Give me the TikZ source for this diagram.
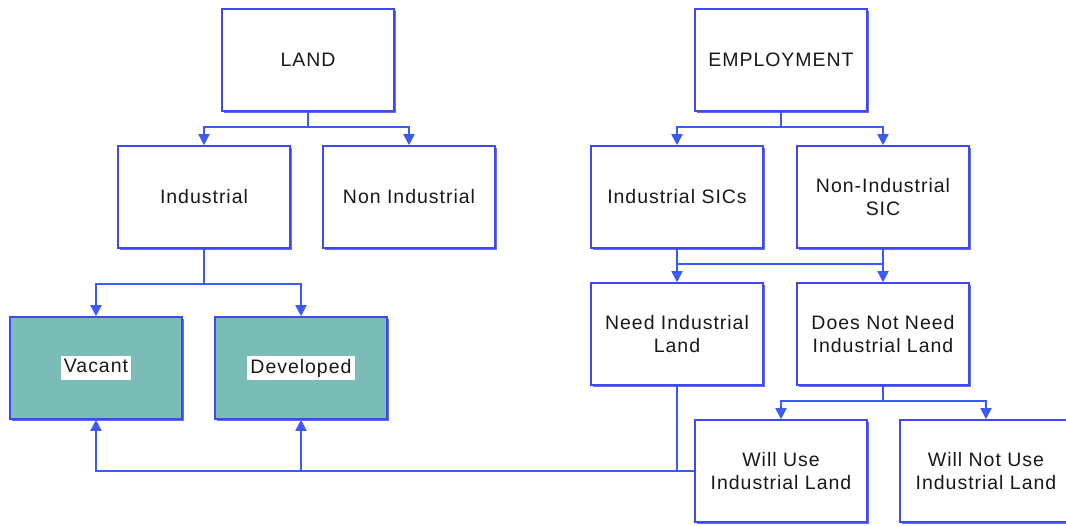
\documentclass[tikz,border=0pt]{standalone}
\usepackage{fontspec}
\setmainfont[LetterSpace=5]{Liberation Sans}
\usetikzlibrary{arrows.meta,calc,shadows}

\definecolor{boxblue}{RGB}{64,72,240}
\definecolor{linkblue}{RGB}{60,90,245}
\definecolor{landteal}{RGB}{122,188,182}
\definecolor{txtgray}{RGB}{25,25,25}

\newcommand{\whitelabel}[1]{\colorbox{white}{\vphantom{Dp}#1}}

\begin{document}
\begin{tikzpicture}[x=1pt,y=-1pt,
        box/.style={draw=boxblue, line width=1.6pt, fill=white, minimum width=172pt, minimum height=102pt,
            align=center, text=txtgray, font=\fontsize{19.5}{23}\selectfont,
            drop shadow={shadow xshift=1.6pt, shadow yshift=-1.6pt, fill=boxblue, opacity=0.8}},
        landbox/.style={box, fill=landteal},
        link/.style={draw=linkblue, line width=1.8pt},
        arrow/.style={link, -{Triangle[width=11pt,length=11pt]}}]
        \useasboundingbox (0,0) rectangle (1066,525);

        % land side
        \node[box] (land) at (308, 60) {LAND};
        \node[box] (ind) at (204, 197) {Industrial};
        \node[box] (nonind) at (409, 197) {Non Industrial};
        \node[landbox] (vac) at (96, 368) {\whitelabel{Vacant}};
        \node[landbox] (dev) at (301, 368) {\whitelabel{Developed}};

        % employment side
        \node[box] (emp) at (781, 60) {EMPLOYMENT};
        \node[box] (isic) at (677, 197) {Industrial SICs};
        \node[box] (nsic) at (883, 197) {Non-Industrial\\SIC};
        \node[box] (need) at (677, 334) {Need Industrial\\Land};
        \node[box] (noneed) at (883, 334) {Does Not Need\\Industrial Land};
        \node[box] (willuse) at (781, 471) {Will Use\\Industrial Land};
        \node[box] (wontuse) at (986, 471) {Will Not Use\\Industrial Land};

        % junctions
        \coordinate (landj) at ($(land.south)+(0,15)$);
        \coordinate (indj) at ($(ind.south)+(0,35)$);
        \coordinate (empj) at ($(emp.south)+(0,15)$);
        \coordinate (sicj) at ($(isic.south)+(0,15)$);
        \coordinate (noneedj) at ($(noneed.south)+(0,15)$);
        \coordinate (needj) at (need.south |- willuse.west);

        \draw[link] (land.south) -- (landj);
        \draw[arrow] (landj) -| (ind.north);
        \draw[arrow] (landj) -| (nonind.north);
        \draw[link] (ind.south) -- (indj);
        \draw[arrow] (indj) -| (vac.north);
        \draw[arrow] (indj) -| (dev.north);

        \draw[link] (emp.south) -- (empj);
        \draw[arrow] (empj) -| (isic.north);
        \draw[arrow] (empj) -| (nsic.north);
        \draw[arrow] (isic.south) -- (need.north);
        \draw[arrow] (nsic.south) -- (noneed.north);
        \draw[link] (sicj) -- (sicj -| nsic.south);
        \draw[link] (noneed.south) -- (noneedj);
        \draw[arrow] (noneedj) -| (willuse.north);
        \draw[arrow] (noneedj) -| (wontuse.north);

        \draw[link] (need.south) -- (needj);
        \draw[arrow] (willuse.west) -| (vac.south);
        \draw[arrow] (needj) -| (dev.south);
    \end{tikzpicture}
\end{document}
